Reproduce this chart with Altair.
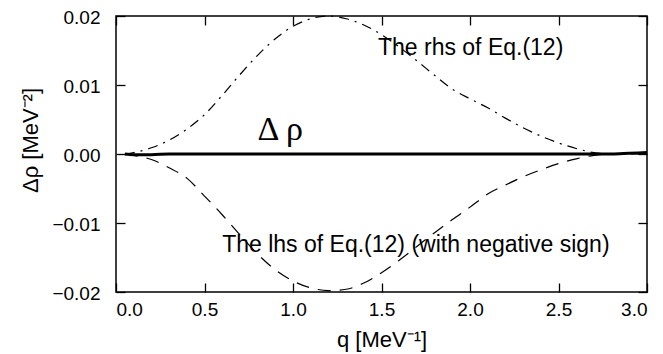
import altair as alt
import pandas as pd

# ---- data ----
q_values = [0.05, 0.1, 0.2, 0.3, 0.4, 0.5, 0.6, 0.7, 0.8, 0.9, 1.0,
            1.1, 1.2, 1.3, 1.4, 1.5, 1.6, 1.7, 1.8, 1.9, 2.0,
            2.1, 2.2, 2.3, 2.4, 2.5, 2.6, 2.7, 2.8, 2.9, 3.0]
rhs_values = [0.0, 0.0002, 0.0009, 0.0020, 0.0036, 0.0057, 0.0085, 0.0115, 0.0143, 0.0167, 0.0185,
              0.0196, 0.0200, 0.0196, 0.0187, 0.0173, 0.0155, 0.0135, 0.0114, 0.0094, 0.0080,
              0.0067, 0.0052, 0.0038, 0.0026, 0.0016, 0.0008, 0.0002, 0.0, 0.0, 0.0]
lhs_values = [0.0, -0.0002, -0.0008, -0.0020, -0.0035, -0.0061, -0.0088, -0.0117, -0.0145, -0.0168, -0.0184,
              -0.0194, -0.0198, -0.0196, -0.0187, -0.0172, -0.0154, -0.0134, -0.0114, -0.0095, -0.0077,
              -0.0058, -0.0045, -0.0033, -0.0023, -0.0014, -0.0007, -0.0002, 0.0, 0.0, 0.0]
delta_rho_values = [0.0, -0.0001, -0.0001, 0.0, 0.0, 0.0, 0.0, 0.0, 0.0, 0.0, 0.0,
                    0.0, 0.0, 0.0, 0.0, 0.0, 0.0, 0.0, 0.0, 0.0, 0.0,
                    0.0, 0.0, 0.0, 0.0, 0.0, 0.0, 0.0, 0.0, 0.0001, 0.0002]

x_ticks = [0.0, 0.5, 1.0, 1.5, 2.0, 2.5, 3.0]
y_ticks = [-0.02, -0.01, 0.0, 0.01, 0.02]

label_texts = ["The rhs of Eq.(12)", "The lhs of Eq.(12) (with negative sign)"]
label_q = [1.48, 0.60]
label_y = [0.01435, -0.0142]

delta_texts = ["Δ ρ"]
delta_q = [0.80]
delta_y = [0.0020]

df = pd.DataFrame({"q": q_values, "rhs": rhs_values, "lhs": lhs_values, "drho": delta_rho_values})
labels_df = pd.DataFrame({"text": label_texts, "q": label_q, "y": label_y})
delta_df = pd.DataFrame({"text": delta_texts, "q": delta_q, "y": delta_y})

W, H = 531, 276
TICK = 9
xscale = alt.Scale(domain=[0, 3], nice=False, zero=False)
yscale = alt.Scale(domain=[-0.02, 0.02], nice=False, zero=False)

x_bottom = alt.Axis(orient="bottom", values=x_ticks, format=".1f", labelFontSize=19,
                    labelPadding=8, tickSize=TICK, offset=-TICK, domain=False, grid=False,
                    titleFontSize=22, titleBaseline="alphabetic", titleY=63)
y_left = alt.Axis(orient="left", values=y_ticks, format=".2f", labelFontSize=19,
                  labelPadding=16, labelOffset=1.5, tickSize=TICK, offset=-TICK, domain=False, grid=False,
                  titleFontSize=22, titleBaseline="alphabetic", titleAngle=270,
                  titleX=-88, titleY=124)
x_top = alt.Axis(orient="top", values=x_ticks, labels=False, tickSize=TICK, offset=-TICK,
                 domain=False, grid=False)
y_right = alt.Axis(orient="right", values=y_ticks, labels=False, tickSize=TICK, offset=-TICK,
                   domain=False, grid=False)

base = alt.Chart(df)

rhs_line = base.mark_line(color="black", strokeWidth=1.2, strokeDash=[10, 6, 2, 6],
                          interpolate="monotone").encode(
    x=alt.X("q:Q", scale=xscale, axis=x_top, title=""),
    y=alt.Y("rhs:Q", scale=yscale, axis=y_right, title=""),
)
lhs_line = base.mark_line(color="black", strokeWidth=1.2, strokeDash=[13, 9],
                          interpolate="monotone").encode(
    x=alt.X("q:Q", scale=xscale, axis=None),
    y=alt.Y("lhs:Q", scale=yscale, axis=None),
)
solid_line = base.mark_line(color="black", strokeWidth=3, interpolate="monotone").encode(
    x=alt.X("q:Q", scale=xscale, axis=x_bottom, title="q [MeV⁻¹]"),
    y=alt.Y("drho:Q", scale=yscale, axis=y_left, title="Δρ [MeV⁻²]"),
)
labels = alt.Chart(labels_df).mark_text(font="Liberation Sans", fontSize=23, align="left",
                                        baseline="alphabetic", color="black").encode(
    x=alt.X("q:Q", scale=xscale, axis=None),
    y=alt.Y("y:Q", scale=yscale, axis=None),
    text="text:N",
)
delta_label = alt.Chart(delta_df).mark_text(font="Liberation Serif", fontSize=34, align="left",
                                            baseline="alphabetic", color="black").encode(
    x=alt.X("q:Q", scale=xscale, axis=None),
    y=alt.Y("y:Q", scale=yscale, axis=None),
    text="text:N",
)

chart = alt.layer(rhs_line, lhs_line, solid_line, labels, delta_label).resolve_axis(
    x="independent", y="independent"
).properties(
    width=W, height=H,
    padding={"left": 108, "top": 8, "right": 8, "bottom": 62},
    autosize=alt.AutoSizeParams(type="none"),
).configure_view(
    stroke="black", strokeWidth=1.5
).configure_axis(
    labelFont="Liberation Sans", titleFont="Liberation Sans",
    labelColor="black", titleColor="black", tickColor="black", tickWidth=1.3,
    titleFontWeight="normal",
)

chart.save("out.html", embed_options={"renderer": "svg", "actions": False})
